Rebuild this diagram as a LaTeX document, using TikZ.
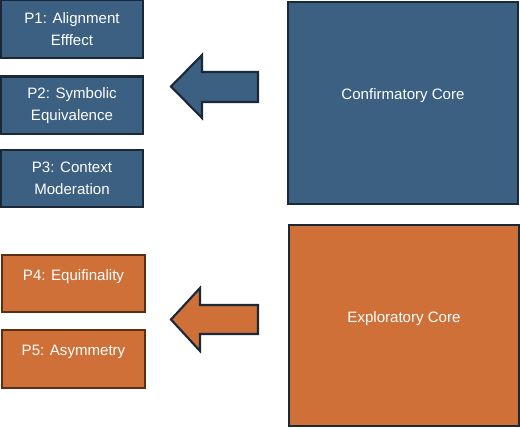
\documentclass[tikz,border=0pt]{standalone}
\usepackage{fontspec}
\setmainfont{Liberation Sans}
\usetikzlibrary{positioning}
\definecolor{coreblue}{RGB}{59,96,130}
\definecolor{navyline}{RGB}{27,40,56}
\definecolor{coreorange}{RGB}{206,112,56}
\definecolor{brownline}{RGB}{91,47,22}
\tikzstyle{pbox} = [rectangle, line width=1.6pt, text=white, align=center,
    minimum width=107pt, minimum height=43pt, font=\fontsize{11.3}{16.5}\selectfont]
\tikzstyle{pblue} = [pbox, draw=navyline, fill=coreblue]
\tikzstyle{porange} = [pbox, draw=brownline, fill=coreorange, text depth=13pt]
\tikzstyle{core} = [rectangle, line width=1.6pt, draw=navyline, text=white, text depth=13pt,
    minimum width=173pt, minimum height=151pt, font=\fontsize{11.3}{16.5}\selectfont]
\tikzstyle{fatarrow} = [draw=navyline, line width=1.6pt, line join=miter]

\begin{document}
\begin{tikzpicture}[x=0.75pt, y=-0.75pt]
        \useasboundingbox (0,0) rectangle (520,428);

        % Place nodes
        \node [core, fill=coreblue] (conf) at (403,103) {Confirmatory Core};
        \node [core, fill=coreorange] (expl) at (404,325.5) {Exploratory Core};

        \node [pblue] (p1) at (72,29) {P1: Alignment\\Efffect};
        \node [pblue, below=12.5pt of p1] (p2) {P2: Symbolic\\Equivalence};
        \node [pblue, below=10.5pt of p2] (p3) {P3: Context\\Moderation};

        \node [porange] (p4) at (73.5,283.5) {P4: Equifinality};
        \node [porange, below=12pt of p4] (p5) {P5: Asymmetry};

        % Draw arrows
        \draw [fatarrow, fill=coreblue] (258,72) -- (202,72) -- (202,55) -- (171,86.5)
            -- (202,118) -- (202,102) -- (258,102) -- cycle;
        \draw [fatarrow, fill=coreorange] (258,305) -- (200,305) -- (200,288) -- (171,319.5)
            -- (200,351) -- (200,334) -- (258,334) -- cycle;

\end{tikzpicture}
\end{document}
